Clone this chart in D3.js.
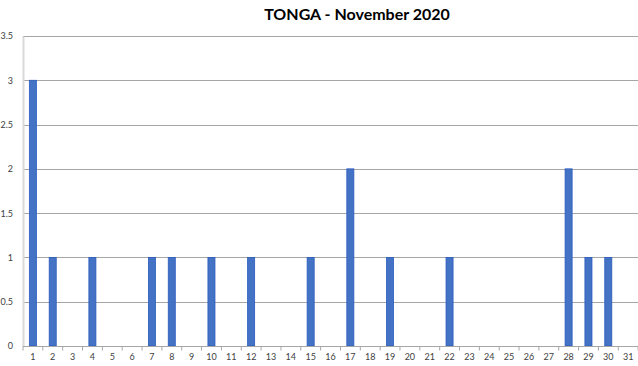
<!DOCTYPE html>
<html>
<head>
<meta charset="utf-8">
<script src="https://cdnjs.cloudflare.com/ajax/libs/d3/7.8.5/d3.min.js"></script>
<style>
  body { margin: 0; background: #fff; }
  text { font-family: Lato, "Liberation Sans", sans-serif; }
</style>
</head>
<body>
<div id="chart"></div>
<script>
const days = d3.range(1, 32).map(String);
const cases = [3, 1, 0, 1, 0, 0, 1, 1, 0, 1, 0, 1, 0, 0, 1, 0, 2, 0, 1, 0, 0, 1, 0, 0, 0, 0, 0, 2, 1, 1, 0];
const yTicks = [0, 0.5, 1, 1.5, 2, 2.5, 3, 3.5];
const title = 'TONGA - November 2020';

const width = 638;
const height = 366;
const margin = { left: 23, right: 0, top: 36, bottom: 20 };

let svg = d3.select('#chart')
          .append('svg')
          .attr('width', width)
          .attr('height', height);

const xScale = d3.scaleBand().domain(days).range([margin.left, width - margin.right]).paddingInner(0.645).paddingOuter(0.32);
const yScale = d3.scaleLinear().domain([0, 3.5]).range([height - margin.bottom, margin.top]);

// gridlines
svg.append('g')
   .selectAll('line')
   .data(yTicks.slice(1))
   .enter()
   .append('line')
   .attr('x1', margin.left)
   .attr('x2', width)
   .attr('y1', d => Math.round(yScale(d)) + 0.5)
   .attr('y2', d => Math.round(yScale(d)) + 0.5)
   .attr('stroke', '#a6a6a6');

// y axis
const yAxis = d3.axisLeft(yScale).tickValues(yTicks).tickSize(0).tickPadding(10).tickFormat(d => String(d));
let gy = svg.append('g')
   .attr('transform', `translate(${margin.left}, 0)`)
   .call(yAxis);
gy.select('.domain').attr('stroke', '#d9d9d9').attr('stroke-width', 2);
gy.selectAll('text').attr('font-size', 9).attr('fill', '#404040');

// bars
svg.append('g')
   .selectAll('rect')
   .data(cases)
   .enter()
   .append('rect')
   .attr('x', (d, i) => xScale(days[i]))
   .attr('y', d => yScale(d))
   .attr('width', xScale.bandwidth())
   .attr('height', d => yScale(0) - yScale(d))
   .attr('fill', '#4472c4')
   .attr('stroke', '#2a5bbf')
   .attr('stroke-width', 0.8);

// x axis
const step = xScale.step();
const xAxis = d3.axisBottom(xScale).tickSize(0).tickPadding(7);
let gx = svg.append('g')
   .attr('transform', `translate(0, ${Math.round(yScale(0)) + 0.5})`)
   .call(xAxis);
gx.select('.domain').remove();
gx.append('line')
  .attr('x1', margin.left).attr('x2', width - margin.right)
  .attr('stroke', '#a6a6a6');
gx.selectAll('.boundary')
  .data(d3.range(0, days.length + 1))
  .enter()
  .append('line')
  .attr('x1', i => margin.left + i * step)
  .attr('x2', i => margin.left + i * step)
  .attr('y1', 0).attr('y2', 4)
  .attr('stroke', '#a6a6a6');
gx.selectAll('text').attr('font-size', 9).attr('fill', '#404040');

svg.append('text')
   .attr('x', 357)
   .attr('y', 20)
   .attr('text-anchor', 'middle')
   .attr('font-size', 16)
   .attr('font-weight', 'bold')
   .attr('fill', '#000')
   .text(title);
</script>
</body>
</html>
